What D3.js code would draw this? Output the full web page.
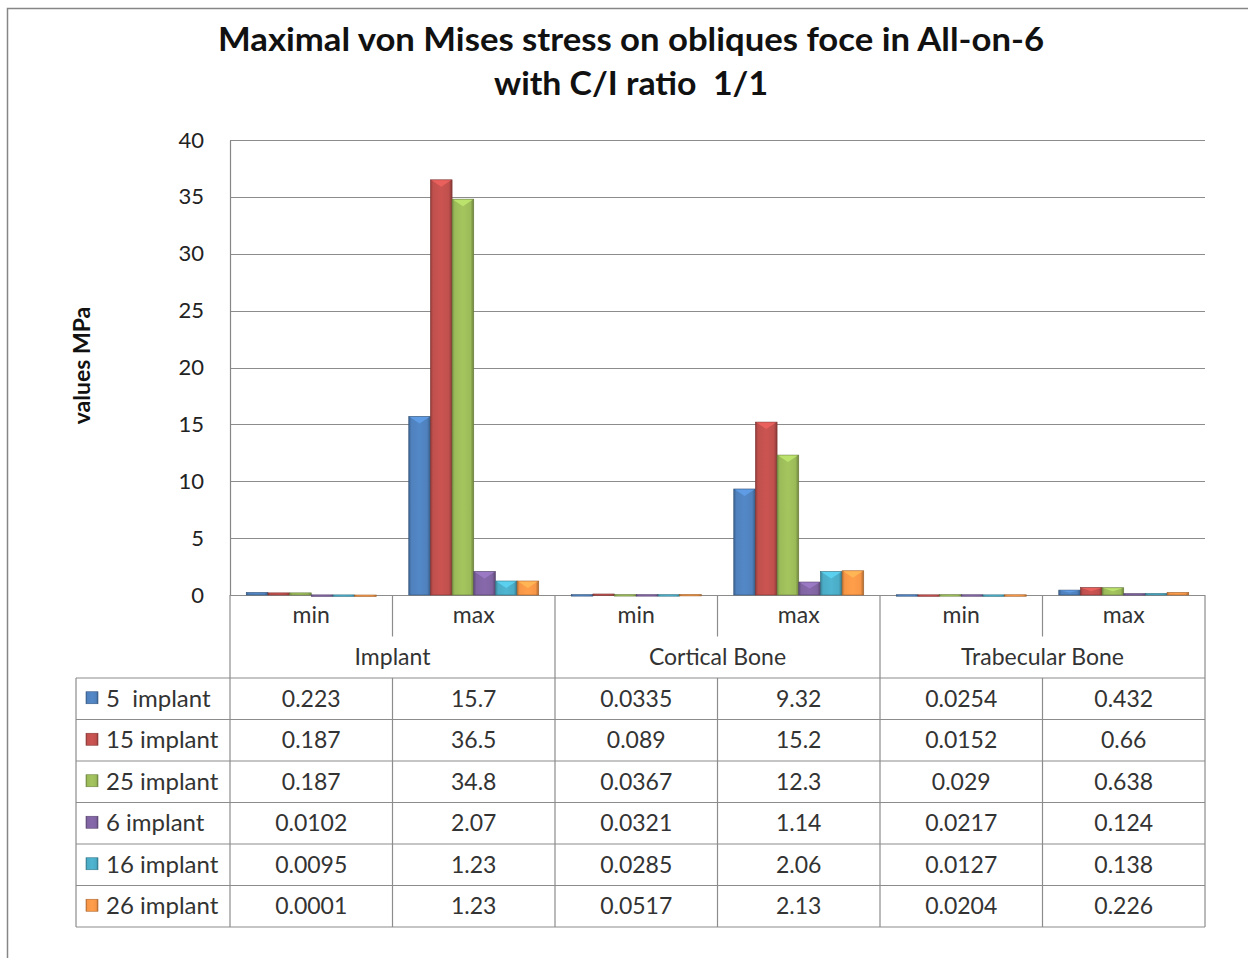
<!DOCTYPE html>
<html>
<head>
<meta charset="utf-8">
<script src="https://cdn.jsdelivr.net/npm/d3@7"></script>
<style>
  body { margin: 0; background: #fff; }
  text { font-family: Lato, "Open Sans", sans-serif; }
</style>
</head>
<body>
<div id="chart"></div>
<script>
// categories (two header rows of the data table)
let categories = ['min', 'max', 'min', 'max', 'min', 'max'];
let groups = ['Implant', 'Cortical Bone', 'Trabecular Bone'];

// series
let seriesNames = ['5  implant', '15 implant', '25 implant', '6 implant', '16 implant', '26 implant'];
let s5 = [0.223, 15.7, 0.0335, 9.32, 0.0254, 0.432];
let s15 = [0.187, 36.5, 0.089, 15.2, 0.0152, 0.66];
let s25 = [0.187, 34.8, 0.0367, 12.3, 0.029, 0.638];
let s6 = [0.0102, 2.07, 0.0321, 1.14, 0.0217, 0.124];
let s16 = [0.0095, 1.23, 0.0285, 2.06, 0.0127, 0.138];
let s26 = [0.0001, 1.23, 0.0517, 2.13, 0.0204, 0.226];
let seriesValues = [s5, s15, s25, s6, s16, s26];

let yTicks = [0, 5, 10, 15, 20, 25, 30, 35, 40];
let colors = ['#4f81bd', '#c0504d', '#9bbb59', '#8064a2', '#4bacc6', '#f79646'];

let width = 1248;
let height = 958;
let margin = {top: 140, right: 43, bottom: 363, left: 230};
let rowH = 41.5;
let tableLeft = 76;

let x = d3.scaleBand()
  .domain(d3.range(categories.length))
  .range([margin.left, width - margin.right]);

let xs = d3.scaleBand()
  .domain(d3.range(seriesNames.length))
  .range([0, x.bandwidth()])
  .paddingOuter(0.75);

let y = d3.scaleLinear()
  .domain([0, 40])
  .range([height - margin.bottom, margin.top]);

const svg = d3.select('#chart').append('svg')
  .attr('width', width)
  .attr('height', height);

// gradients for the bevelled bars
let defs = svg.append('defs');
colors.forEach((c, i) => {
  let g = defs.append('linearGradient').attr('id', 'grad' + i)
    .attr('x1', 0).attr('x2', 1).attr('y1', 0).attr('y2', 0);
  let base = d3.color(c);
  g.append('stop').attr('offset', '0%').attr('stop-color', base.darker(0.8));
  g.append('stop').attr('offset', '12%').attr('stop-color', base);
  g.append('stop').attr('offset', '50%').attr('stop-color', base.brighter(0.15));
  g.append('stop').attr('offset', '85%').attr('stop-color', base);
  g.append('stop').attr('offset', '100%').attr('stop-color', base.darker(1));
});

// outer frame
svg.append('rect')
  .attr('x', 7.5).attr('y', 8.5)
  .attr('width', width + 10).attr('height', height + 10)
  .attr('fill', 'none').attr('stroke', '#868686').attr('stroke-width', 1.5);

// title
svg.append('text')
  .attr('x', 631).attr('y', 51)
  .attr('text-anchor', 'middle')
  .attr('font-size', 32).attr('font-weight', 'bold').attr('fill', '#111')
  .attr('textLength', 826).attr('lengthAdjust', 'spacingAndGlyphs')
  .text('Maximal von Mises stress on obliques foce in All-on-6');
svg.append('text')
  .attr('x', 631).attr('y', 95)
  .attr('text-anchor', 'middle')
  .attr('font-size', 32).attr('font-weight', 'bold').attr('fill', '#111')
  .attr('xml:space', 'preserve')
  .attr('textLength', 274).attr('lengthAdjust', 'spacingAndGlyphs')
  .text('with C/I ratio  1/1');

// gridlines + y axis
let yAxis = g => g
  .attr('transform', `translate(${margin.left}, 0)`)
  .call(d3.axisLeft(y).tickValues(yTicks).tickSize(0).tickPadding(26))
  .call(g => g.select('.domain').attr('stroke', '#868686').attr('stroke-width', 1.2))
  .call(g => g.selectAll('.tick text')
    .attr('font-family', 'Lato, sans-serif').attr('font-size', 22).attr('fill', '#222'));

svg.append('g')
  .selectAll('line')
  .data(yTicks)
  .join('line')
  .attr('x1', margin.left).attr('x2', width - margin.right)
  .attr('y1', d => Math.round(y(d)) + 0.5).attr('y2', d => Math.round(y(d)) + 0.5)
  .attr('stroke', '#8c8c8c').attr('stroke-width', 1.2);

svg.append('g').call(yAxis);

svg.append('text')
  .attr('transform', `translate(90, ${(y(0) + y(40)) / 2 - 2}) rotate(-90)`)
  .attr('text-anchor', 'middle')
  .attr('font-size', 23).attr('font-weight', 'bold').attr('fill', '#111')
  .text('values MPa');

// bars
let barData = [];
seriesValues.forEach((vals, si) => {
  vals.forEach((v, ci) => barData.push({si, ci, v}));
});

let bars = svg.append('g');
bars.selectAll('rect')
  .data(barData)
  .join('rect')
  .attr('x', d => x(d.ci) + xs(d.si))
  .attr('y', d => y(d.v))
  .attr('width', xs.bandwidth())
  .attr('height', d => Math.max(1.5, y(0) - y(d.v)))
  .attr('fill', d => `url(#grad${d.si})`)
  .attr('stroke', d => d3.color(colors[d.si]).darker(1.2))
  .attr('stroke-width', 0.6);

// top bevel highlight
bars.selectAll('path')
  .data(barData.filter(d => y(0) - y(d.v) > 4))
  .join('path')
  .attr('d', d => {
    let x0 = x(d.ci) + xs(d.si), x1 = x0 + xs.bandwidth(), t = y(d.v);
    let h = Math.min(7, (y(0) - t) / 2);
    return `M${x0 + 1},${t + 0.5}L${x1 - 1},${t + 0.5}L${(x0 + x1) / 2},${t + h}Z`;
  })
  .attr('fill', d => d3.color(colors[d.si]).brighter(0.6))
  .attr('opacity', 0.85);

// data table
let table = svg.append('g')
  .attr('stroke', '#8c8c8c').attr('stroke-width', 1.2);
let top0 = y(0);
let tableBottom = top0 + rowH * 8;
let right = width - margin.right;

// horizontal lines
for (let r = 2; r <= 8; r++) {
  table.append('line').attr('x1', r === 2 ? tableLeft : tableLeft).attr('x2', right)
    .attr('y1', top0 + rowH * r).attr('y2', top0 + rowH * r);
}
// vertical lines
table.append('line').attr('x1', tableLeft).attr('x2', tableLeft)
  .attr('y1', top0 + rowH * 2).attr('y2', tableBottom);
d3.range(categories.length + 1).forEach(i => {
  let xx = i < categories.length ? x(i) : right;
  if (i % 2 === 1) {
    // between min and max: first header row, then the data rows
    table.append('line').attr('x1', xx).attr('x2', xx).attr('y1', top0).attr('y2', top0 + rowH);
    table.append('line').attr('x1', xx).attr('x2', xx).attr('y1', top0 + rowH * 2).attr('y2', tableBottom);
  } else {
    table.append('line').attr('x1', xx).attr('x2', xx).attr('y1', top0).attr('y2', tableBottom);
  }
});

let tText = svg.append('g')
  .attr('font-size', 23).attr('fill', '#333').attr('text-anchor', 'middle');

tText.selectAll('text.cat')
  .data(categories)
  .join('text')
  .attr('class', 'cat')
  .attr('x', (d, i) => x(i) + x.bandwidth() / 2)
  .attr('y', top0 + rowH / 2 + 7)
  .text(d => d);

tText.selectAll('text.grp')
  .data(groups)
  .join('text')
  .attr('class', 'grp')
  .attr('x', (d, i) => x(i * 2) + x.bandwidth())
  .attr('y', top0 + rowH * 1.5 + 8)
  .text(d => d);

// legend keys + names
seriesNames.forEach((name, si) => {
  let cy = top0 + rowH * (2.5 + si);
  svg.append('rect')
    .attr('x', 86).attr('y', cy - 7).attr('width', 12).attr('height', 12)
    .attr('fill', `url(#grad${si})`)
    .attr('stroke', d3.color(colors[si]).darker(1)).attr('stroke-width', 0.6);
  svg.append('text')
    .attr('x', 106).attr('y', cy + 8)
    .attr('font-size', 24).attr('fill', '#333')
    .attr('xml:space', 'preserve')
    .text(name);
});

tText.selectAll('text.val')
  .data(barData)
  .join('text')
  .attr('class', 'val')
  .attr('x', d => x(d.ci) + x.bandwidth() / 2)
  .attr('y', d => top0 + rowH * (2.5 + d.si) + 8)
  .text(d => String(d.v));
</script>
</body>
</html>
